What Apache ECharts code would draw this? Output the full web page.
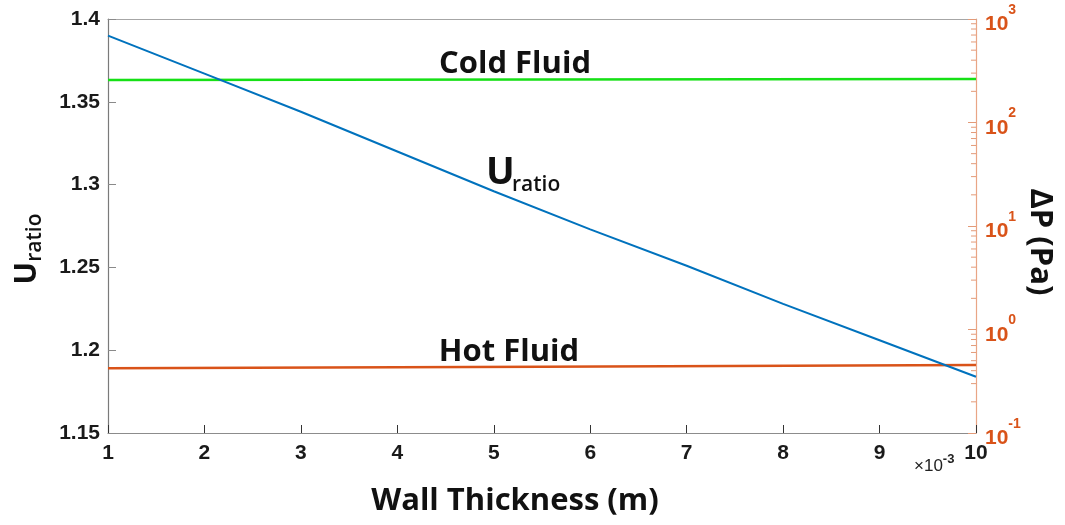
<!DOCTYPE html>
<html>
<head>
<meta charset="utf-8">
<script src="https://cdn.jsdelivr.net/npm/echarts/dist/echarts.min.js"></script>
<style>
  html, body { margin: 0; padding: 0; background: #ffffff; }
  #chart { width: 1065px; height: 525px; }
</style>
</head>
<body>
<div id="chart"></div>
<script>
// Wall thickness in units of 1e-3 m
const thickness = [1, 2, 3, 4, 5, 6, 7, 8, 9, 10];
// Overall heat transfer coefficient ratio for each thickness
const uRatio = [1.390, 1.367, 1.344, 1.320, 1.296, 1.273, 1.251, 1.228, 1.206, 1.184];

// Pressure drop (Pa) of each stream, sampled at thickness 1, 5.5 and 10
const dpThickness = [1, 5.5, 10];
const dpCold = [258, 260, 263];
const dpHot = [0.422, 0.437, 0.454];

// Left axis ticks
const uMin = 1.15, uMax = 1.4, uStep = 0.05;
// Right (log) axis range
const dpMin = 0.1, dpMax = 1000;

const BLUE = '#0072BD';
const ORANGE = '#D95319';
const GREEN = '#16e016';
const TICK_FONT = '"Liberation Sans", Arial, sans-serif';
const TITLE_FONT = '"Open Sans", "Noto Sans", sans-serif';

// Minor ticks of the log axis: 2..9 within every decade
const dpMinorTicks = [];
for (let e = -1; e < 3; e++) {
  for (let m = 2; m <= 9; m++) dpMinorTicks.push(m * Math.pow(10, e));
}

const pair = (xs, ys) => xs.map((x, i) => [x, ys[i]]);

const chart = echarts.init(document.getElementById('chart'), null, { renderer: 'canvas' });

chart.setOption({
  backgroundColor: '#ffffff',
  animation: false,
  grid: { left: 108, right: 89, top: 19, bottom: 92, containLabel: false },
  xAxis: [
    {
      type: 'value', min: 1, max: 10, interval: 1,
      axisLine: { show: true, lineStyle: { color: '#8c8c8c', width: 1.2 } },
      axisTick: { show: true, inside: true, length: 8, lineStyle: { color: '#333', width: 1 } },
      axisLabel: { color: '#1a1a1a', fontFamily: TICK_FONT, fontWeight: 'bold', fontSize: 21, margin: 10 },
      splitLine: { show: false }
    },
    {
      type: 'value', min: 1, max: 10, position: 'top',
      axisLine: { show: true, lineStyle: { color: '#a6a6a6', width: 1.2 } },
      axisTick: { show: false }, axisLabel: { show: false }, splitLine: { show: false }
    }
  ],
  yAxis: [
    {
      type: 'value', min: uMin, max: uMax, interval: uStep, position: 'left',
      axisLine: { show: true, lineStyle: { color: '#7a7a7a', width: 1.2 } },
      axisTick: { show: true, inside: true, length: 8, lineStyle: { color: '#8a8a8a', width: 1 } },
      axisLabel: {
        color: '#1a1a1a', fontFamily: TICK_FONT, fontWeight: 'bold', fontSize: 21, margin: 8,
        formatter: v => String(+v.toFixed(2))
      },
      splitLine: { show: false }
    },
    {
      type: 'log', logBase: 10, min: dpMin, max: dpMax, position: 'right',
      axisLine: { show: true, lineStyle: { color: '#e9a585', width: 1.2 } },
      axisTick: { show: true, inside: true, length: 8, lineStyle: { color: '#e39a78', width: 1 } },
      axisLabel: {
        margin: 9,
        formatter: v => '{b|10}{s|' + Math.round(Math.log10(v)) + '}',
        rich: {
          b: { color: ORANGE, fontFamily: TICK_FONT, fontWeight: 'bold', fontSize: 21, verticalAlign: 'bottom', lineHeight: 32 },
          s: { color: ORANGE, fontFamily: TICK_FONT, fontWeight: 'bold', fontSize: 14, verticalAlign: 'top', lineHeight: 30 }
        }
      },
      splitLine: { show: false }
    }
  ],
  series: [
    {
      name: 'U ratio', type: 'line', xAxisIndex: 0, yAxisIndex: 0,
      data: pair(thickness, uRatio), showSymbol: false, smooth: false,
      lineStyle: { color: BLUE, width: 2 }, z: 3
    },
    {
      name: 'Cold Fluid', type: 'line', xAxisIndex: 0, yAxisIndex: 1,
      data: pair(dpThickness, dpCold), showSymbol: false,
      lineStyle: { color: GREEN, width: 2.5 }, z: 2
    },
    {
      name: 'Hot Fluid', type: 'line', xAxisIndex: 0, yAxisIndex: 1,
      data: pair(dpThickness, dpHot), showSymbol: false,
      lineStyle: { color: ORANGE, width: 2.5 }, z: 2
    },
    {
      // minor ticks of the pressure-drop axis
      name: 'dp minor ticks', type: 'custom', xAxisIndex: 0, yAxisIndex: 1,
      silent: true, clip: false, z: 4,
      data: dpMinorTicks.map(v => [10, v]),
      renderItem: (params, api) => {
        const p = api.coord([api.value(0), api.value(1)]);
        return {
          type: 'line',
          shape: { x1: p[0] - 5, y1: p[1], x2: p[0], y2: p[1] },
          style: { stroke: '#e39a78', lineWidth: 1 }
        };
      }
    }
  ],
  graphic: [
    {
      type: 'text', x: 515, y: 64,
      style: { text: 'Cold Fluid', font: 'bold 31px ' + TITLE_FONT, fill: '#111', textAlign: 'center', textVerticalAlign: 'middle' }
    },
    {
      type: 'text', x: 509, y: 352,
      style: { text: 'Hot Fluid', font: 'bold 31px ' + TITLE_FONT, fill: '#111', textAlign: 'center', textVerticalAlign: 'middle' }
    },
    {
      type: 'text', x: 486, y: 173,
      style: { text: 'U', font: 'bold 38px ' + TITLE_FONT, fill: '#111', textAlign: 'left', textVerticalAlign: 'middle' }
    },
    {
      type: 'text', x: 512, y: 185,
      style: { text: 'ratio', font: '600 21px ' + TITLE_FONT, fill: '#111', textAlign: 'left', textVerticalAlign: 'middle' }
    },
    {
      // left axis title
      type: 'text', x: 29, y: 249, rotation: Math.PI / 2,
      style: {
        text: '{u|U}{s|ratio}', textAlign: 'center', textVerticalAlign: 'middle',
        rich: {
          u: { font: 'bold 30px ' + TITLE_FONT, fill: '#111', verticalAlign: 'top', lineHeight: 34 },
          s: { font: '600 21px ' + TITLE_FONT, fill: '#111', verticalAlign: 'bottom', lineHeight: 26, padding: [12, 0, 0, 0] }
        }
      }
    },
    {
      // right axis title
      type: 'text', x: 1040, y: 242, rotation: -Math.PI / 2,
      style: { text: 'ΔP (Pa)', font: 'bold 31px ' + TITLE_FONT, fill: '#111', textAlign: 'center', textVerticalAlign: 'middle' }
    },
    {
      // x axis title
      type: 'text', x: 515, y: 501,
      style: { text: 'Wall Thickness (m)', font: 'bold 31px ' + TITLE_FONT, fill: '#111', textAlign: 'center', textVerticalAlign: 'middle' }
    },
    {
      // exponent of the x axis
      type: 'text', x: 914, y: 464,
      style: {
        text: '{m|×10}{e|-3}', textAlign: 'left', textVerticalAlign: 'middle',
        rich: {
          m: { font: '17px ' + TICK_FONT, fill: '#222', verticalAlign: 'bottom', lineHeight: 22 },
          e: { font: 'bold 13px ' + TICK_FONT, fill: '#222', verticalAlign: 'top', lineHeight: 22 }
        }
      }
    }
  ]
});
</script>
</body>
</html>
